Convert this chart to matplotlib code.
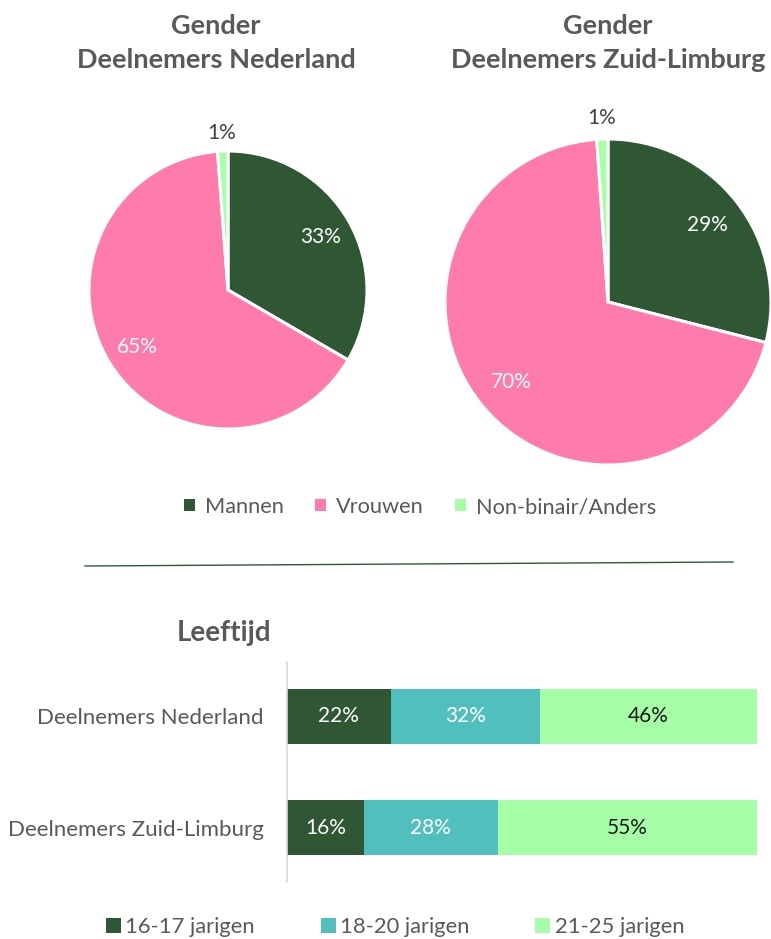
import matplotlib
matplotlib.use("Agg")
import matplotlib.pyplot as plt
from matplotlib.patches import Patch
from matplotlib.lines import Line2D
import numpy as np

plt.rcParams['font.family'] = ['Lato', 'DejaVu Sans']

# ---- data ----
gender_labels = ["Mannen", "Vrouwen", "Non-binair/Anders"]
gender_nl = [33.4, 65.4, 1.2]
gender_zl = [29.0, 69.9, 1.1]
pie_titles = ["Gender\nDeelnemers Nederland", "Gender\nDeelnemers Zuid-Limburg"]

age_groups = ["16-17 jarigen", "18-20 jarigen", "21-25 jarigen"]
age_categories = ["Deelnemers Nederland", "Deelnemers Zuid-Limburg"]
age_nl = [22.1, 31.7, 46.2]
age_zl = [16.4, 28.4, 55.2]

# ---- style ----
W, H = 771, 939
GRAY = "#595959"
pie_colors = ["#2F5734", "#FF7BAC", "#A6FFA6"]
bar_colors = ["#2F5734", "#52BFBF", "#A6FFA6"]
bar_text_colors = ["white", "white", "#1a1a1a"]

fig = plt.figure(figsize=(W / 100, H / 100), dpi=100)


def px_axes(cx, cy, r):
    return fig.add_axes([(cx - r) / W, (H - cy - r) / H, 2 * r / W, 2 * r / H])


def draw_pie(ax, vals):
    wedges, _ = ax.pie(vals, colors=pie_colors, startangle=90, counterclock=False,
                       wedgeprops=dict(edgecolor="white", linewidth=2.2))
    ax.set_xlim(-1, 1)
    ax.set_ylim(-1, 1)
    ax.set_aspect("equal")
    ax.axis("off")
    cum = 0
    for i, v in enumerate(vals):
        mid = 90 - (cum + v / 2) * 3.6
        cum += v
        ang = np.deg2rad(mid)
        if i == 2:
            d = 1.13
            col = "#404040"
        else:
            d = 0.77
            col = "white"
        ax.text(d * np.cos(ang), d * np.sin(ang), f"{round(v)}%", ha="center", va="center",
                color=col, fontsize=15, clip_on=False)


ax1 = px_axes(228, 290, 139)
draw_pie(ax1, gender_nl)
ax2 = px_axes(608, 302, 163)
draw_pie(ax2, gender_zl)

fig.text(216 / W, 1 - 43 / H, pie_titles[0], ha="center", va="center", fontsize=19.5,
         fontweight="bold", color=GRAY, linespacing=1.55)
fig.text(608 / W, 1 - 43 / H, pie_titles[1], ha="center", va="center", fontsize=19.5,
         fontweight="bold", color=GRAY, linespacing=1.55)

handles = [Patch(facecolor=c, edgecolor="none") for c in pie_colors]
fig.legend(handles, gender_labels, loc="center", bbox_to_anchor=(420 / W, 1 - 507 / H),
           ncol=3, frameon=False, handlelength=0.5, handleheight=0.5, handletextpad=0.45,
           columnspacing=1.45, fontsize=15.7, labelcolor=GRAY, borderpad=0)

# separator line
fig.add_artist(Line2D([85 / W, 733 / W], [1 - 566 / H, 1 - 562 / H], color="#2F5734",
                      linewidth=1.0, transform=fig.transFigure))

# ---- bar chart ----
axb = fig.add_axes([287 / W, (H - 882) / H, 470 / W, 220 / H])
rows = [age_nl, age_zl]
ypos = np.arange(len(age_categories))
for j in range(len(age_groups)):
    vals = [r[j] for r in rows]
    lefts = [sum(r[:j]) for r in rows]
    axb.barh(ypos, vals, left=lefts, height=0.5, color=bar_colors[j], edgecolor="none")
    for y, v, l in zip(ypos, vals, lefts):
        axb.text(l + v / 2, y, f"{round(v)}%", ha="center", va="center",
                 color=bar_text_colors[j], fontsize=15)
axb.set_xlim(0, 100)
axb.set_ylim(1.49, -0.49)
axb.set_yticks(ypos)
axb.set_yticklabels(age_categories, fontsize=16, color=GRAY)
axb.tick_params(axis="y", length=0, pad=17)
axb.set_xticks([])
for s in ["top", "right", "bottom"]:
    axb.spines[s].set_visible(False)
axb.spines["left"].set_color("#D9D9D9")
axb.spines["left"].set_linewidth(1.2)

fig.text(224 / W, 1 - 633 / H, "Leeftijd", ha="center", va="center", fontsize=20,
         fontweight="bold", color=GRAY)

handles_b = [Patch(facecolor=c, edgecolor="none") for c in bar_colors]
fig.legend(handles_b, age_groups, loc="center", bbox_to_anchor=(395 / W, 1 - 927 / H),
           ncol=3, frameon=False, handlelength=0.68, handleheight=0.68, handletextpad=0.2,
           columnspacing=3.0, fontsize=15.8, labelcolor=GRAY, borderpad=0)

fig.savefig("out.png", dpi=100)
